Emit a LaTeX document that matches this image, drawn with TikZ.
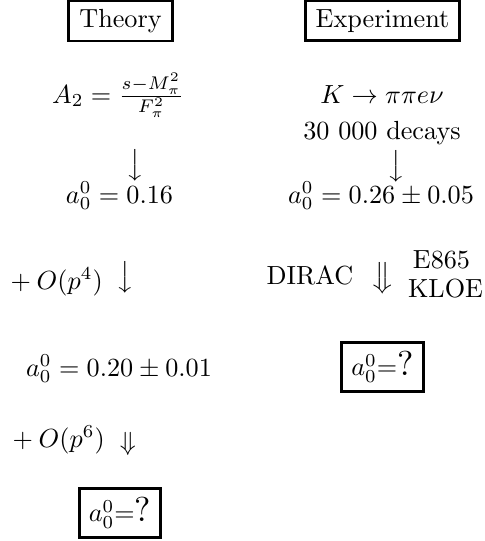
\documentclass[tikz,border=0pt]{standalone}
\usepackage{amsmath}
\begin{document}
\begin{tikzpicture}[x=0.3817pt,y=-0.3817pt,
  lbl/.style={inner sep=0pt, anchor=base},
  titlebox/.style={draw, line width=1.1pt, inner xsep=4pt, inner ysep=3.3pt, anchor=base},
  qbox/.style={draw, line width=1.1pt, minimum width=31pt, minimum height=19pt, inner sep=0pt},
  glyph/.style={inner sep=0pt}]
\useasboundingbox (0,0) rectangle (485,541);
% headings
\node[titlebox] (theory) at (120.5,27) {Theory};
\node[titlebox] (exp) at (382.5,27) {Experiment};
% theory column
\node[lbl] (A2) at (118,103) {$A_2=\frac{s-M_\pi^2}{F_\pi^2}$};
\node[glyph] (d1) at (135,165) {$\big\downarrow$};
\node[lbl] (a016) at (119.5,203) {$a_0^0=0.16$};
\node[lbl, anchor=base west] (op4) at (10,289) {$+\mskip\medmuskip O(p^4)$};
\node[glyph] (d3) at (125,277.5) {$\big\downarrow$};
\node[lbl] (a020) at (119,376) {$a_0^0=0.20\pm0.01$};
\node[lbl, anchor=base west] (op6) at (12,447) {$+\mskip\medmuskip O(p^6)$};
\node[glyph] (d5) at (128,444) {$\Downarrow$};
\node[qbox] (q2) at (120,513) {$a_0^0$=\scalebox{1.32}{?}};
% experiment column
\node[lbl] (K) at (382,103) {$K\to\pi\pi e\nu$};
\node[lbl] (dec) at (382,139) {30 000 decays};
\node[glyph] (d2) at (396,166) {$\big\downarrow$};
\node[lbl] (a026) at (381,203) {$a_0^0=0.26\pm0.05$};
\node[lbl] (dirac) at (310,284) {DIRAC};
\node[glyph] (d4) at (383,278.5) {$\big\Downarrow$};
\node[lbl] (e865) at (441.5,268) {E865};
\node[lbl] (kloe) at (445.5,297) {KLOE};
\node[qbox] (q1) at (382.5,367) {$a_0^0$=\scalebox{1.32}{?}};
\end{tikzpicture}
\end{document}
